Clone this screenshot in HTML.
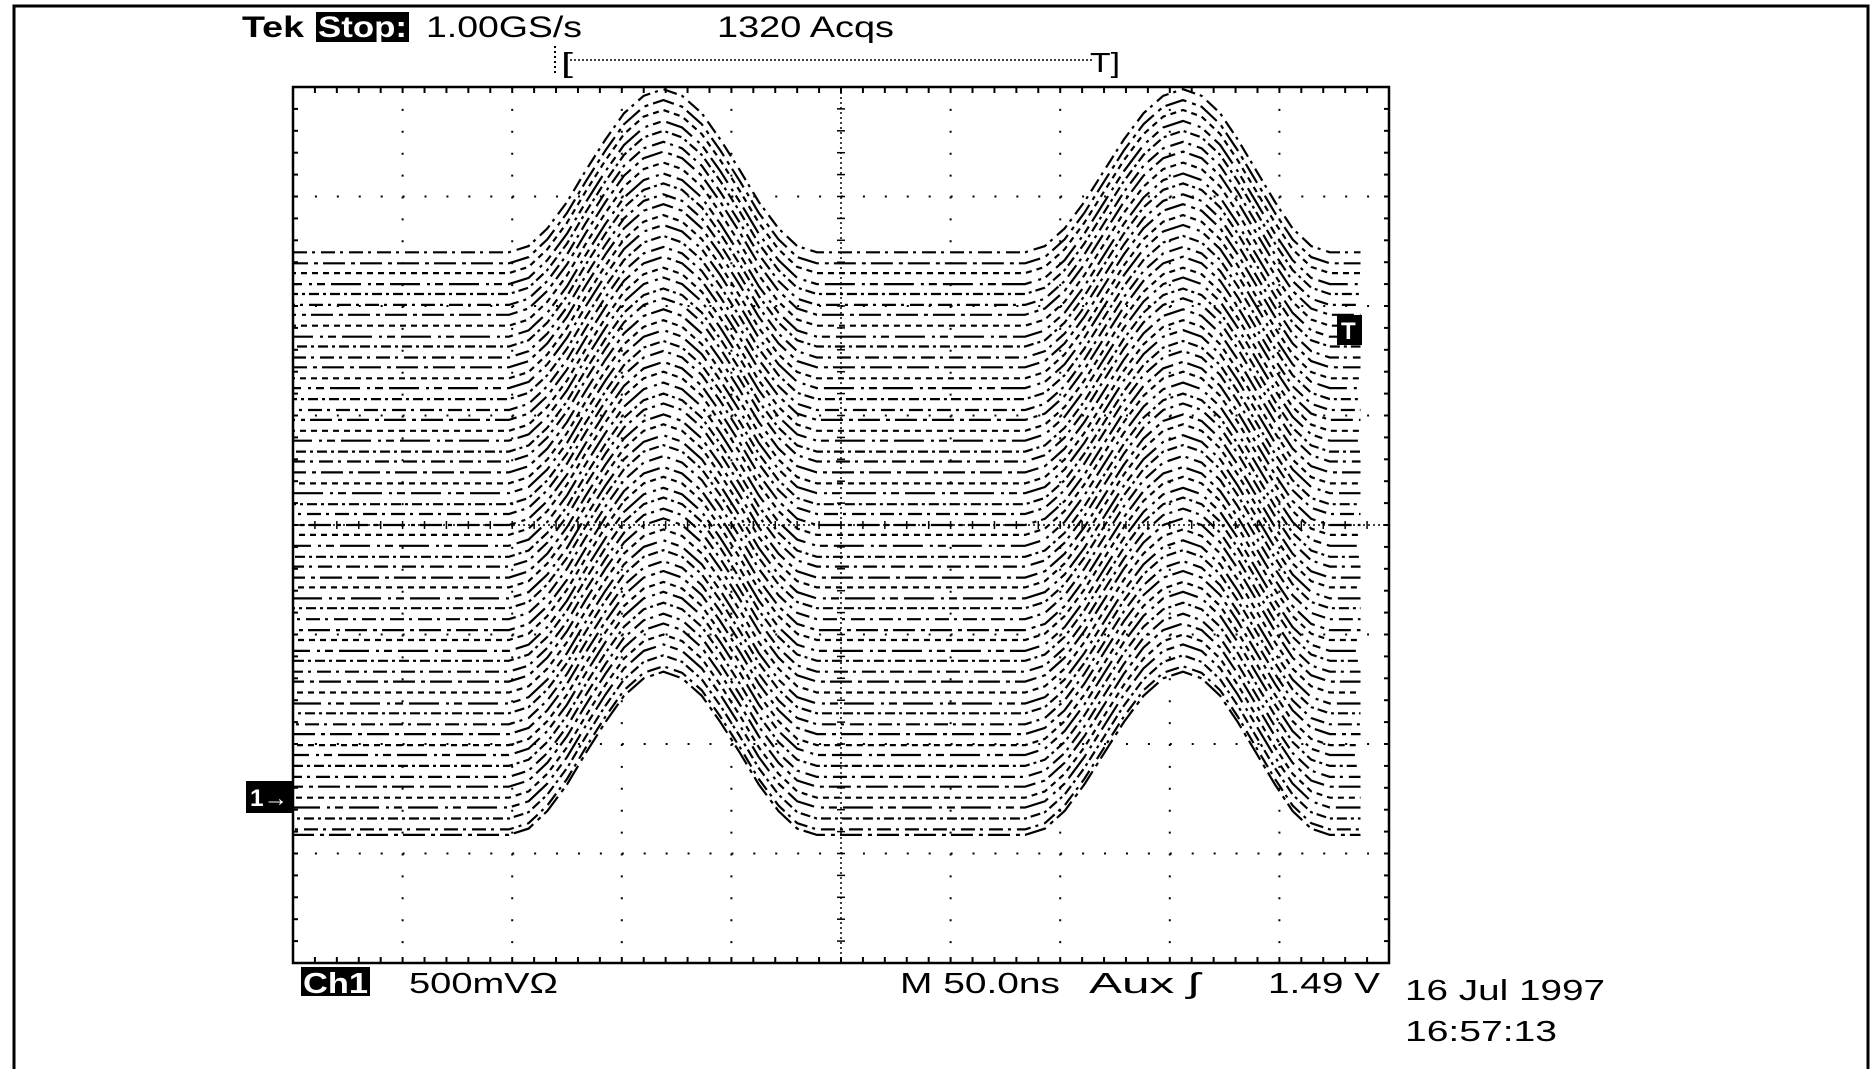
<!DOCTYPE html>
<html><head><meta charset="utf-8"><style>
html,body{margin:0;padding:0;background:#fff;}
svg{display:block;font-family:"Liberation Sans",sans-serif;}
</style></head><body>
<svg id="scope" width="1870" height="1069" viewBox="0 0 1870 1069">
<rect x="14" y="6" width="1854" height="1070" fill="#fff" stroke="#000" stroke-width="3"/>
<g id="grid"></g>
<g id="traces"></g>
<text x="242" y="37" font-size="30" font-weight="bold" textLength="62" lengthAdjust="spacingAndGlyphs">Tek</text>
<rect x="316" y="12" width="93" height="30" fill="#000"/>
<text x="318" y="37" font-size="30" font-weight="bold" fill="#fff" textLength="89" lengthAdjust="spacingAndGlyphs">Stop:</text>
<text x="426" y="37" font-size="30" textLength="156" lengthAdjust="spacingAndGlyphs">1.00GS/s</text>
<text x="717" y="37" font-size="30" textLength="177" lengthAdjust="spacingAndGlyphs">1320 Acqs</text>
<g>
<line x1="555" y1="46" x2="555" y2="74" stroke="#000" stroke-width="2" stroke-dasharray="2 3"/>
<text x="561" y="72" font-size="28" textLength="12" lengthAdjust="spacingAndGlyphs">[</text>
<line x1="570" y1="60" x2="1092" y2="60" stroke="#000" stroke-width="1.5" stroke-dasharray="2 2"/>
<text x="1090" y="72" font-size="28" textLength="30" lengthAdjust="spacingAndGlyphs">T]</text>
</g>
<g>
<rect x="246" y="781" width="47" height="32" fill="#000"/>
<text x="250" y="806" font-size="24" font-weight="bold" fill="#fff" textLength="38" lengthAdjust="spacingAndGlyphs">1→</text>
</g>
<g>
<rect x="1337" y="315" width="25" height="30" fill="#000"/>
<text x="1341" y="339" font-size="24" font-weight="bold" fill="#fff">T</text>
</g>
<rect x="301" y="967" width="69" height="29" fill="#000"/>
<text x="303" y="993" font-size="29" font-weight="bold" fill="#fff" textLength="65" lengthAdjust="spacingAndGlyphs">Ch1</text>
<text x="409" y="993" font-size="29" textLength="149" lengthAdjust="spacingAndGlyphs">500mVΩ</text>
<text x="900" y="993" font-size="29" textLength="160" lengthAdjust="spacingAndGlyphs">M 50.0ns</text>
<text x="1089" y="993" font-size="29" textLength="110" lengthAdjust="spacingAndGlyphs">Aux ʃ</text>
<text x="1268" y="993" font-size="29" textLength="112" lengthAdjust="spacingAndGlyphs">1.49 V</text>
<text x="1405" y="1000" font-size="29" textLength="200" lengthAdjust="spacingAndGlyphs">16 Jul 1997</text>
<text x="1405" y="1041" font-size="29" textLength="152" lengthAdjust="spacingAndGlyphs">16:57:13</text>
</svg>
<script>
// time axis samples (divisions) and pulse shape amplitude (divisions)
const sampleTimes = [0,1.97,2.15,2.32,2.5,2.67,2.85,3.02,3.2,3.38,3.55,3.73,3.9,4.08,4.25,4.43,4.6,4.78,6.68,6.86,7.04,7.22,7.4,7.58,7.76,7.94,8.12,8.29,8.46,8.62,8.79,8.96,9.12,9.29,9.46,9.74];
const pulseValues = [0,0,0.057,0.218,0.46,0.745,1.03,1.27,1.43,1.49,1.43,1.27,1.03,0.745,0.46,0.218,0.057,0,0,0.057,0.218,0.46,0.745,1.03,1.27,1.43,1.49,1.43,1.27,1.03,0.745,0.46,0.218,0.057,0,0];
// baseline level of each acquired trace (divisions above bottom)
const traceBaselines = [6.49,6.39,6.3,6.2,6.11,6.01,5.92,5.82,5.72,5.63,5.53,5.44,5.34,5.25,5.15,5.05,4.96,4.86,4.77,4.67,4.58,4.48,4.38,4.29,4.19,4.1,4.0,3.91,3.81,3.71,3.62,3.52,3.43,3.33,3.24,3.14,3.04,2.95,2.85,2.76,2.66,2.57,2.47,2.37,2.28,2.18,2.09,1.99,1.9,1.8,1.7,1.61,1.51,1.42,1.32,1.22,1.17];
const NS='http://www.w3.org/2000/svg';
const X0=293,X1=1389,Y0=87,Y1=963;
const xs=d=>X0+d*(X1-X0)/10;
const ys=d=>Y1-d*(Y1-Y0)/8;
const grid=document.getElementById('grid');
function ln(x1,y1,x2,y2,w,dash,name){
  const l=document.createElementNS(NS,'line');
  l.setAttribute('x1',x1);l.setAttribute('y1',y1);l.setAttribute('x2',x2);l.setAttribute('y2',y2);
  l.setAttribute('stroke','#000');l.setAttribute('stroke-width',w);
  if(dash)l.setAttribute('stroke-dasharray',dash);
  
  
  grid.appendChild(l);return l;
}
const dx=(X1-X0)/50, dy=(Y1-Y0)/40;
for(let i=1;i<10;i++){ if(i!==5) ln(xs(i),Y0,xs(i),Y1,2,'2 '+(dy-2),'vertical-gridline'); }
for(let j=1;j<8;j++){ if(j!==4) ln(X0,ys(j),X1,ys(j),2,'2 '+(dx-2),'horizontal-gridline'); }
ln(xs(5),Y0,xs(5),Y1,1.5,'2 3','center-vertical-line');
ln(X0,ys(4),X1,ys(4),1.5,'2 3','center-horizontal-line');
for(let k=1;k<50;k++){const x=X0+k*dx;
  ln(x,Y0,x,Y0+6,2,null,'top-tick');ln(x,Y1-6,x,Y1,2,null,'bottom-tick');
  ln(x,ys(4)-4,x,ys(4)+4,1.5,null,'center-h-tick');}
for(let k=1;k<40;k++){const y=Y0+k*dy;
  ln(X0,y,X0+5,y,2,null,'left-tick');ln(X1-5,y,X1,y,2,null,'right-tick');
  ln(xs(5)-4,y,xs(5)+4,y,1.5,null,'center-v-tick');}
const border=document.createElementNS(NS,'rect');
border.setAttribute('x',X0);border.setAttribute('y',Y0);border.setAttribute('width',X1-X0);border.setAttribute('height',Y1-Y0);
border.setAttribute('fill','none');border.setAttribute('stroke','#000');border.setAttribute('stroke-width',2.5);


grid.appendChild(border);
const tg=document.getElementById('traces');
const dashes=['14 5 3 6','22 6 4 5','6 5','30 7 3 5 8 6','10 4 3 4'];
traceBaselines.forEach((b,i)=>{
  const p=document.createElementNS(NS,'polyline');
  const pts=sampleTimes.map((t,k)=>xs(t).toFixed(1)+','+ys(b+pulseValues[k]).toFixed(1)).join(' ');
  p.setAttribute('points',pts);
  p.setAttribute('fill','none');p.setAttribute('stroke','#000');p.setAttribute('stroke-width','2.2');
  p.setAttribute('stroke-dasharray',dashes[i%dashes.length]);
  p.setAttribute('stroke-dashoffset',(i*7)%23);
  
  
  tg.appendChild(p);
});
</script>
</body></html>
